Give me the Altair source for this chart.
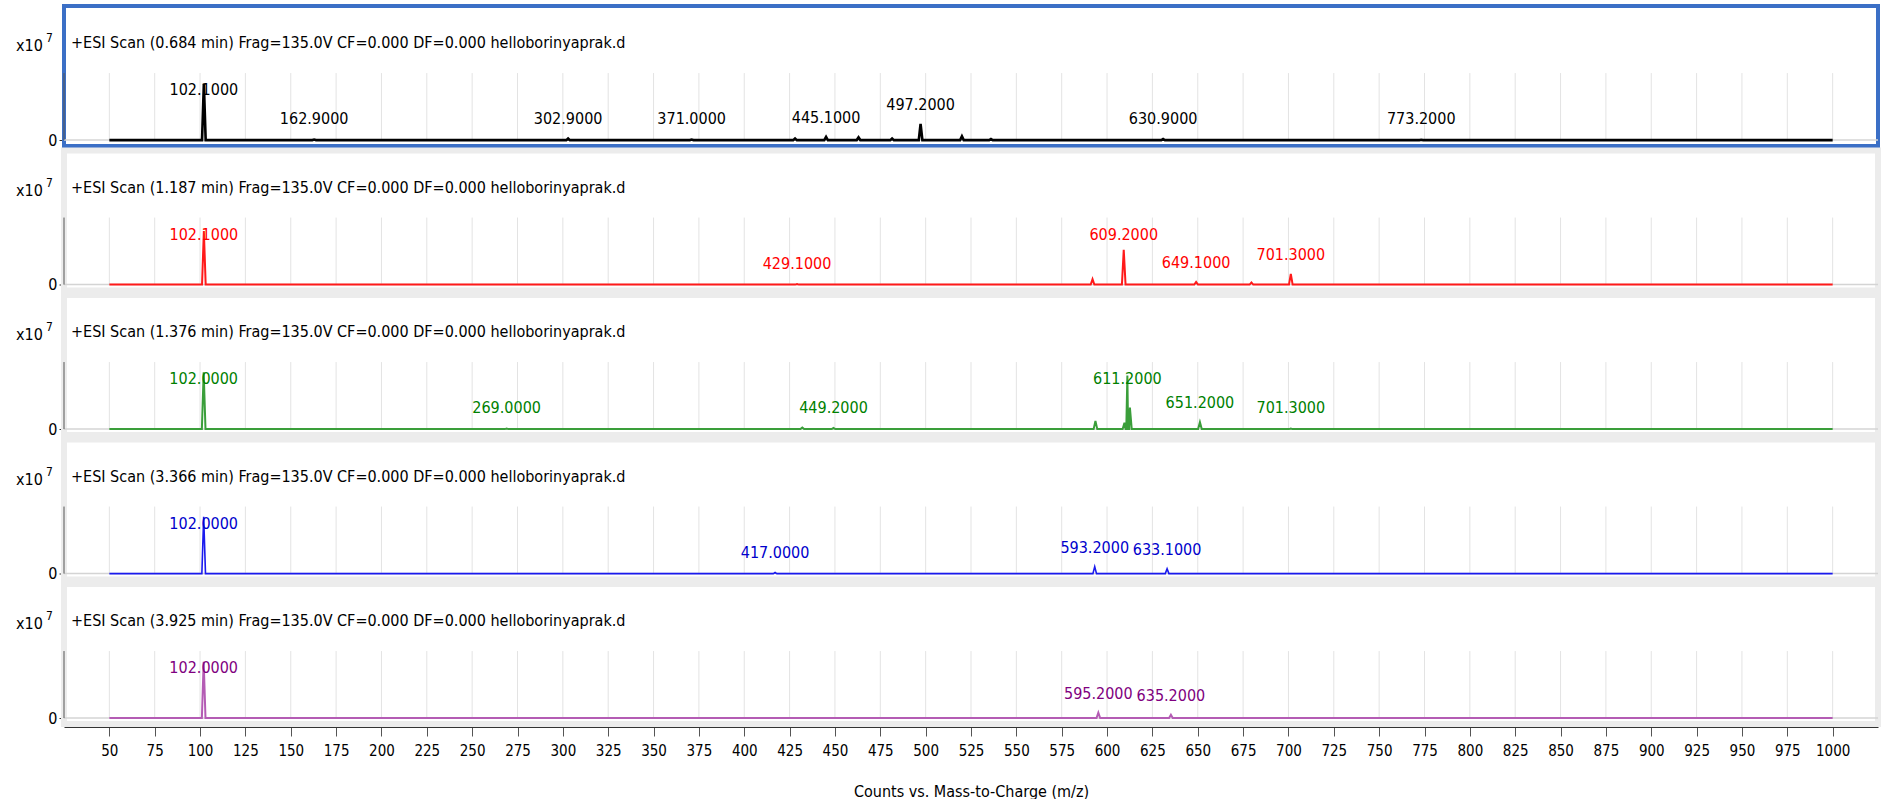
import altair as alt
import pandas as pd

FONT = "DejaVu Sans Condensed, Liberation Sans, sans-serif"

# m/z tick positions along the shared bottom axis
mz_ticks = list(range(50, 1001, 25))

scan_titles = [
    "+ESI Scan (0.684 min) Frag=135.0V CF=0.000 DF=0.000 helloborinyaprak.d",
    "+ESI Scan (1.187 min) Frag=135.0V CF=0.000 DF=0.000 helloborinyaprak.d",
    "+ESI Scan (1.376 min) Frag=135.0V CF=0.000 DF=0.000 helloborinyaprak.d",
    "+ESI Scan (3.366 min) Frag=135.0V CF=0.000 DF=0.000 helloborinyaprak.d",
    "+ESI Scan (3.925 min) Frag=135.0V CF=0.000 DF=0.000 helloborinyaprak.d",
]
line_colors = ["#000000", "#ff1a1a", "#3a9e3a", "#1a1aee", "#b45cb4"]
label_colors = ["#000000", "#ff0000", "#008000", "#0000cc", "#800080"]
line_widths = [2.6, 2.0, 2.0, 1.6, 2.0]

# Peak lists per scan: m/z, intensity (x10^7) and whether the peak is annotated
scan1_mz = [102.1, 162.9, 302.9, 371.0, 428.0, 445.1, 463.0, 481.5, 497.2, 520.0, 536.0, 630.9, 773.2]
scan1_int = [1.05, 0.01, 0.03, 0.01, 0.03, 0.06, 0.05, 0.03, 0.30, 0.07, 0.02, 0.02, 0.005]
scan1_lab = [1, 1, 1, 1, 0, 1, 0, 0, 1, 0, 0, 1, 1]

scan2_mz = [102.1, 429.1, 592.0, 609.2, 649.1, 679.6, 701.3]
scan2_int = [1.0, 0.01, 0.10, 0.65, 0.05, 0.04, 0.20]
scan2_lab = [1, 1, 0, 1, 1, 0, 1]

scan3_mz = [102.0, 269.0, 432.0, 449.2, 593.6, 609.6, 611.2, 612.6, 651.2, 701.3]
scan3_int = [1.06, 0.01, 0.03, 0.02, 0.15, 0.12, 1.0, 0.40, 0.13, 0.01]
scan3_lab = [1, 1, 0, 1, 0, 0, 1, 0, 1, 1]

scan4_mz = [102.0, 417.0, 593.2, 633.1]
scan4_int = [1.06, 0.02, 0.13, 0.09]
scan4_lab = [1, 1, 1, 1]

scan5_mz = [102.0, 595.2, 635.2]
scan5_int = [1.05, 0.10, 0.06]
scan5_lab = [1, 1, 1]

scans = [
    (scan1_mz, scan1_int, scan1_lab),
    (scan2_mz, scan2_int, scan2_lab),
    (scan3_mz, scan3_int, scan3_lab),
    (scan4_mz, scan4_int, scan4_lab),
    (scan5_mz, scan5_int, scan5_lab),
]

W, H = 1814, 140
Y_MIN, Y_MAX = -0.11, 2.5
PLOT_TOP = 1.25
xs = alt.Scale(domain=[25, 1025], nice=False, zero=False)
ys = alt.Scale(domain=[Y_MIN, Y_MAX], nice=False, zero=False)


def ypx(v):
    """Pixel row of an intensity value inside one panel."""
    return H * (Y_MAX - v) / (Y_MAX - Y_MIN)


def trace(mz, inten, half=1.0):
    """Profile trace: flat baseline with a narrow peak at each m/z."""
    pts = [(50.0, 0.0), (1000.0, 0.0)]
    for m, h in zip(mz, inten):
        pts += [(m - half, 0.0), (m, h), (m + half, 0.0)]
    pts.sort()
    return pd.DataFrame(pts, columns=["mz", "counts"])


def labels(mz, inten, lab):
    rows = []
    for m, h, l in zip(mz, inten, lab):
        if l:
            rows.append({"mz": m, "text": f"{m:.4f}", "ly": min(max(h + 0.2, 0.24), 0.78)})
    return pd.DataFrame(rows)


y_axis = alt.Axis(
    values=[0], domain=False, grid=False, tickSize=5, tickColor="#333333",
    labelFont=FONT, labelFontSize=16, labelColor="#000000", labelPadding=2, title=None,
)

bottom_axis = alt.Axis(
    values=mz_ticks, format="d", grid=False, domainColor="#333333", tickColor="#555555",
    tickSize=9, labelFont=FONT, labelFontSize=15, labelColor="#000000",
    labelPadding=7, offset=3, title="Counts vs. Mass-to-Charge (m/z)",
    titleFont=FONT, titleFontSize=16, titleFontWeight="normal",
    titleColor="#000000", titlePadding=25,
)


def panel(i, last):
    mz, inten, lab = scans[i]
    one = pd.DataFrame({"k": [0]})
    x_axis = bottom_axis if last else None

    if i == 0:
        frame_stroke, frame_w = "#3b6fc6", 4
    else:
        frame_stroke, frame_w = "#ececec", 6

    frame = alt.Chart(one).mark_rect(fill="white", stroke=frame_stroke, strokeWidth=frame_w).encode(
        x=alt.value(0), x2=alt.value(W), y=alt.value(0), y2=alt.value(H)
    )

    grid = alt.Chart(pd.DataFrame({"mz": mz_ticks})).mark_rule(color="#e3e3e3", strokeWidth=1).encode(
        x=alt.X("mz:Q", scale=xs, axis=x_axis),
        y=alt.value(ypx(PLOT_TOP)),
        y2=alt.value(ypx(0)),
    )

    baseline = alt.Chart(one).mark_rule(color="#d4d4d4", strokeWidth=1.5).encode(
        x=alt.value(0), x2=alt.value(W), y=alt.value(ypx(0))
    )

    yline = alt.Chart(one).mark_rule(color="#555555", strokeWidth=1).encode(
        x=alt.value(0), y=alt.value(ypx(PLOT_TOP)), y2=alt.value(ypx(0))
    )

    line = alt.Chart(trace(mz, inten)).mark_line(
        color=line_colors[i], strokeWidth=line_widths[i], strokeJoin="miter"
    ).encode(
        x=alt.X("mz:Q", scale=xs, axis=x_axis),
        y=alt.Y("counts:Q", scale=ys, axis=y_axis),
    )

    text = alt.Chart(labels(mz, inten, lab)).mark_text(
        baseline="bottom", font=FONT, fontSize=16, color=label_colors[i]
    ).encode(
        x=alt.X("mz:Q", scale=xs, axis=x_axis),
        y=alt.Y("ly:Q", scale=ys, axis=y_axis),
        text="text:N",
    )

    title = alt.Chart(one).mark_text(
        align="left", baseline="middle", font=FONT, fontSize=16, color="#000000"
    ).encode(x=alt.value(7), y=alt.value(37), text=alt.value(scan_titles[i]))

    mult = alt.Chart(one).mark_text(
        align="left", baseline="middle", font=FONT, fontSize=16, color="#000000"
    ).encode(x=alt.value(-48), y=alt.value(40), text=alt.value("x10"))

    expo = alt.Chart(one).mark_text(
        align="left", baseline="middle", font=FONT, fontSize=12, color="#000000"
    ).encode(x=alt.value(-18), y=alt.value(32), text=alt.value("7"))

    return alt.layer(frame, grid, baseline, yline, line, text, title, mult, expo).properties(
        width=W, height=H
    )


chart = alt.vconcat(
    *[panel(i, i == 4) for i in range(5)], spacing=4.5, bounds="flush"
).properties(
    padding={"left": 16, "top": 4, "right": 0, "bottom": 0},
    background="white",
).configure_view(stroke=None)

chart.save("out.html", embed_options={"renderer": "svg", "actions": False})
